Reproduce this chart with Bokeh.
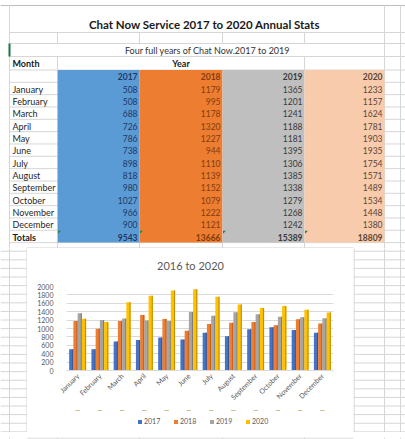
import math
from bokeh.plotting import figure
from bokeh.models import (ColumnDataSource, Range1d, FactorRange, Legend, LegendItem,
                          SingleIntervalTicker)
from bokeh.layouts import column, row
from bokeh.transform import dodge
from bokeh.core.properties import value
from bokeh.embed import file_html
from bokeh.resources import INLINE

# ---------------- data ----------------
months = ["January", "February", "March", "April", "May", "June", "July",
          "August", "September", "October", "November", "December"]
years = ["2017", "2018", "2019", "2020"]
v2017 = [508, 508, 688, 726, 786, 738, 898, 818, 980, 1027, 966, 900]
v2018 = [1179, 995, 1178, 1320, 1227, 944, 1110, 1139, 1152, 1079, 1222, 1121]
v2019 = [1365, 1201, 1241, 1188, 1181, 1395, 1306, 1385, 1338, 1279, 1268, 1242]
v2020 = [1233, 1157, 1624, 1781, 1903, 1935, 1754, 1571, 1489, 1534, 1448, 1380]
totals = [9543, 13666, 15389, 18809]

sheet_title = "Chat Now Service 2017 to 2020 Annual Stats"
sheet_subtitle = "Four full years of Chat Now.2017 to 2019"
chart_title = "2016 to 2020"

# ---------------- styles ----------------
FONT = value("Lato")
GRID = "#d6d6d6"
cell_fills = ["#5b9bd5", "#ed7d31", "#bfbfbf", "#f8cbad"]
cell_text = ["#1f3864", "#843c0c", "#3a3a3a", "#5a4638"]
bar_colors = ["#4472c4", "#ed7d31", "#a5a5a5", "#ffc000"]
bar_dark = ["#2f5597", "#c55a11", "#7f7f7f", "#bf9000"]
chart_text = "#595959"

# ---------------- sheet geometry (page pixels) ----------------
W, H = 405, 439
SPLIT, CH_BOT = 248, 432
TITLE_BOT, LEG_TOP = 270, 410
col_edges = [9, 57, 139, 222, 304, 384]
far_col = 400
head_top = 69.5
pitch = 12.33
low_pitch = 8.6
chart_left, chart_right = 27, 353
frame_l, frame_r, frame_t, frame_b = 66, 333, 286, 370
legend_left = 137
chart_title_x, chart_title_y = 190, 264.5

series = [v2017, v2018, v2019, v2020]
n_rows = len(months) + 2
row_edges = [head_top + i * pitch for i in range(n_rows + 1)]
row_centers = [(row_edges[i] + row_edges[i + 1]) / 2 + 0.6 for i in range(n_rows)]
table_bottom = row_edges[-1]
low_lines = [table_bottom + k * low_pitch for k in range(1, 30) if table_bottom + k * low_pitch < H]


def sheet_fig(x0, x1, y0, y1, fx0=None, fx1=None):
    s = figure(width=x1 - x0, height=y1 - y0,
               x_range=Range1d(x0 if fx0 is None else fx0, x1 if fx1 is None else fx1),
               y_range=Range1d(y1, y0), output_backend="svg", toolbar_location=None,
               x_axis_type=None, y_axis_type=None, min_border=0, outline_line_color=None,
               background_fill_color="white", border_fill_color="white")
    s.grid.visible = False
    return s


# ---------------- table ----------------
t = sheet_fig(0, W, 0, SPLIT)
t.segment(x0=[0], x1=[W], y0=[5], y1=[5], line_color="#bdbdbd")
h_lines = [32, 43, 56] + row_edges + [l for l in low_lines if l < SPLIT]
t.segment(x0=col_edges[0], x1=W, y0=h_lines, y1=h_lines, line_color=GRID)
vx0, vy0, vy1 = [], [], []
for xe in (col_edges[0], col_edges[5], far_col):
    vx0.append(xe); vy0.append(5); vy1.append(SPLIT)
for xe in col_edges[1:5]:
    vx0.append(xe); vy0.append(32); vy1.append(43)
    vx0.append(xe); vy0.append(table_bottom); vy1.append(SPLIT)
for xe in (col_edges[1], col_edges[4]):
    vx0.append(xe); vy0.append(56); vy1.append(head_top)
t.segment(x0=vx0, x1=vx0, y0=vy0, y1=vy1, line_color=GRID)
t.segment(x0=[9], x1=[9], y0=[43], y1=[56], line_color="#217346", line_width=2)

t.quad(left=col_edges[1:5], right=col_edges[2:6], top=head_top, bottom=table_bottom,
       fill_color=cell_fills, line_color=None)

tri_xs = [[xe + 0.5, xe + 3.5, xe + 0.5] for xe in col_edges[1:5]]
tri_ys = [[row_edges[-2] + 0.5, row_edges[-2] + 0.5, row_edges[-2] + 3.5] for _ in col_edges[1:5]]
t.patches(xs=tri_xs, ys=tri_ys, fill_color="#1e8a3c", line_color=None)

t.quad(left=[chart_left], right=[chart_right], top=[SPLIT - 0.5], bottom=[SPLIT],
       fill_color="white", line_color=None)
t.segment(x0=[chart_left], x1=[chart_right], y0=[SPLIT - 0.5], y1=[SPLIT - 0.5],
          line_color="#d0d0d0")

t.text(x=[204], y=[24], text=[sheet_title], text_font=FONT, text_font_size="11.5px",
       text_font_style="bold", text_align="center", text_baseline="middle", text_color="#1a1a1a")
t.text(x=[207], y=[50], text=[sheet_subtitle], text_font=FONT, text_font_size="9px",
       text_align="center", text_baseline="middle", text_color="#333333")
t.text(x=[col_edges[0] + 3], y=[63], text=["Month"], text_font=FONT, text_font_size="9px",
       text_font_style="bold", text_align="left", text_baseline="middle", text_color="#1a1a1a")
t.text(x=[(col_edges[1] + col_edges[4]) / 2], y=[63], text=["Year"], text_font=FONT,
       text_font_size="9px", text_font_style="bold", text_align="center",
       text_baseline="middle", text_color="#1a1a1a")

lab_src = ColumnDataSource(dict(x=[col_edges[0] + 3] * len(months), y=row_centers[1:-1], t=months))
t.text(x="x", y="y", text="t", source=lab_src, text_font=FONT, text_font_size="9px",
       text_align="left", text_baseline="middle", text_color="#262626")
t.text(x=[col_edges[0] + 3], y=[row_centers[-1]], text=["Totals"], text_font=FONT,
       text_font_size="9px", text_font_style="bold", text_align="left",
       text_baseline="middle", text_color="#1a1a1a")

hx, hy, ht, hc = [], [], [], []
vx, vy, vt, vc = [], [], [], []
for j, yr in enumerate(years):
    xr = col_edges[j + 2] - 2
    hx.append(xr); hy.append(row_centers[0]); ht.append(yr); hc.append(cell_text[j])
    hx.append(xr); hy.append(row_centers[-1]); ht.append(str(totals[j])); hc.append(cell_text[j])
    for i, v in enumerate(series[j]):
        vx.append(xr); vy.append(row_centers[i + 1]); vt.append(str(v)); vc.append(cell_text[j])
t.text(x="x", y="y", text="t", text_color="c",
       source=ColumnDataSource(dict(x=hx, y=hy, t=ht, c=hc)), text_font=FONT,
       text_font_size="8.5px", text_font_style="bold", text_align="right", text_baseline="middle")
t.text(x="x", y="y", text="t", text_color="c",
       source=ColumnDataSource(dict(x=vx, y=vy, t=vt, c=vc)), text_font=FONT,
       text_font_size="8.5px", text_align="right", text_baseline="middle")

# ---------------- sheet strips around the chart ----------------
def strip(x0, x1, y0, y1, vlines, box_x=None, box_y=None):
    s = sheet_fig(x0, x1, y0, y1)
    ls = [l for l in low_lines if y0 <= l <= y1]
    if ls:
        s.segment(x0=x0, x1=x1, y0=ls, y1=ls, line_color=GRID)
    if vlines:
        s.segment(x0=vlines, x1=vlines, y0=y0, y1=y1, line_color=GRID)
    if box_x is not None:
        s.segment(x0=[box_x], x1=[box_x], y0=[y0], y1=[y1], line_color="#d0d0d0")
    if box_y is not None:
        s.quad(left=[chart_left], right=[chart_right], top=[y0], bottom=[box_y],
               fill_color="white", line_color=None)
        s.segment(x0=[chart_left], x1=[chart_right], y0=[box_y], y1=[box_y], line_color="#d0d0d0")
    return s

left_strip = strip(0, chart_left, SPLIT, CH_BOT, [col_edges[0]], box_x=chart_left - 0.5)
right_strip = strip(chart_right, W, SPLIT, CH_BOT, [col_edges[5], far_col], box_x=chart_right + 0.5)
bottom_strip = strip(0, W, CH_BOT, H, col_edges + [far_col], box_y=CH_BOT + 0.5)

# ---------------- chart title strip (frame aligned with the chart frame) ----------------
tt = sheet_fig(chart_left, chart_right, SPLIT, TITLE_BOT, fx0=frame_l, fx1=frame_r)
tt.text(x=[chart_title_x], y=[chart_title_y], text=[chart_title], text_font=FONT,
        text_font_size="11px", text_align="center", text_baseline="middle", text_color=chart_text)

# ---------------- chart ----------------
src = ColumnDataSource(dict(month=months, y2017=v2017, y2018=v2018, y2019=v2019, y2020=v2020))
cols = ["y2017", "y2018", "y2019", "y2020"]

c = figure(x_range=FactorRange(*months), y_range=Range1d(0, 2000),
           width=chart_right - chart_left, height=LEG_TOP - TITLE_BOT,
           output_backend="svg", toolbar_location=None,
           min_border_left=frame_l - chart_left, min_border_right=chart_right - frame_r,
           min_border_top=frame_t - TITLE_BOT, min_border_bottom=LEG_TOP - frame_b,
           outline_line_color=None, background_fill_color="white", border_fill_color="white")
c.x_range.range_padding = 0

bw = 0.19
offsets = [-0.285, -0.095, 0.095, 0.285]
for k in range(4):
    c.vbar(x=dodge("month", offsets[k], range=c.x_range), top=cols[k], width=bw,
           source=src, fill_color=bar_colors[k], line_color=None)
    c.vbar(x=dodge("month", offsets[k] + bw / 2 - 0.025, range=c.x_range), top=cols[k],
           width=0.05, source=src, fill_color=bar_dark[k], line_color=None)

c.xgrid.visible = False
c.ygrid.grid_line_color = "#d9d9d9"
c.yaxis.ticker = SingleIntervalTicker(interval=200)
c.yaxis.axis_line_color = None
c.yaxis.major_tick_line_color = None
c.yaxis.minor_tick_line_color = None
c.yaxis.major_tick_out = 0
c.yaxis.major_label_standoff = 9
c.yaxis.major_label_text_font = "Lato"
c.yaxis.major_label_text_font_size = "7px"
c.yaxis.major_label_text_color = chart_text

c.xaxis.axis_line_color = "#d9d9d9"
c.xaxis.major_tick_line_color = None
c.xaxis.minor_tick_line_color = None
c.xaxis.major_tick_out = 0
c.xaxis.major_label_standoff = 4
c.xaxis.major_label_orientation = math.pi / 4
c.xaxis.major_label_text_font = "Lato"
c.xaxis.major_label_text_font_size = "7px"
c.xaxis.major_label_text_color = chart_text

# ---------------- legend strip under the chart ----------------
lg = figure(x_range=FactorRange(*months), y_range=Range1d(-2, -1),
            width=chart_right - chart_left, height=CH_BOT - LEG_TOP,
            output_backend="svg", toolbar_location=None, x_axis_type=None, y_axis_type=None,
            min_border=0, outline_line_color=None, background_fill_color="white",
            border_fill_color="white")
lg.grid.visible = False
items = []
for k in range(4):
    r = lg.vbar(x="month", top=cols[k], width=bw, source=src,
                fill_color=bar_colors[k], line_color=None)
    items.append(LegendItem(label=years[k], renderers=[r]))
legend = Legend(items=items, orientation="horizontal",
                location=(legend_left - frame_l, 7),
                glyph_width=5, glyph_height=5, label_text_font="Lato",
                label_text_font_size="7px", label_text_color=chart_text,
                label_standoff=2, spacing=9, padding=0, margin=0,
                border_line_color=None, background_fill_alpha=0, label_height=7)
lg.add_layout(legend, "center")

layout = column(t, row(left_strip, column(tt, c, lg, spacing=0), right_strip, spacing=0),
                bottom_strip, spacing=0)
open("out.html", "w").write(file_html(layout, INLINE))
